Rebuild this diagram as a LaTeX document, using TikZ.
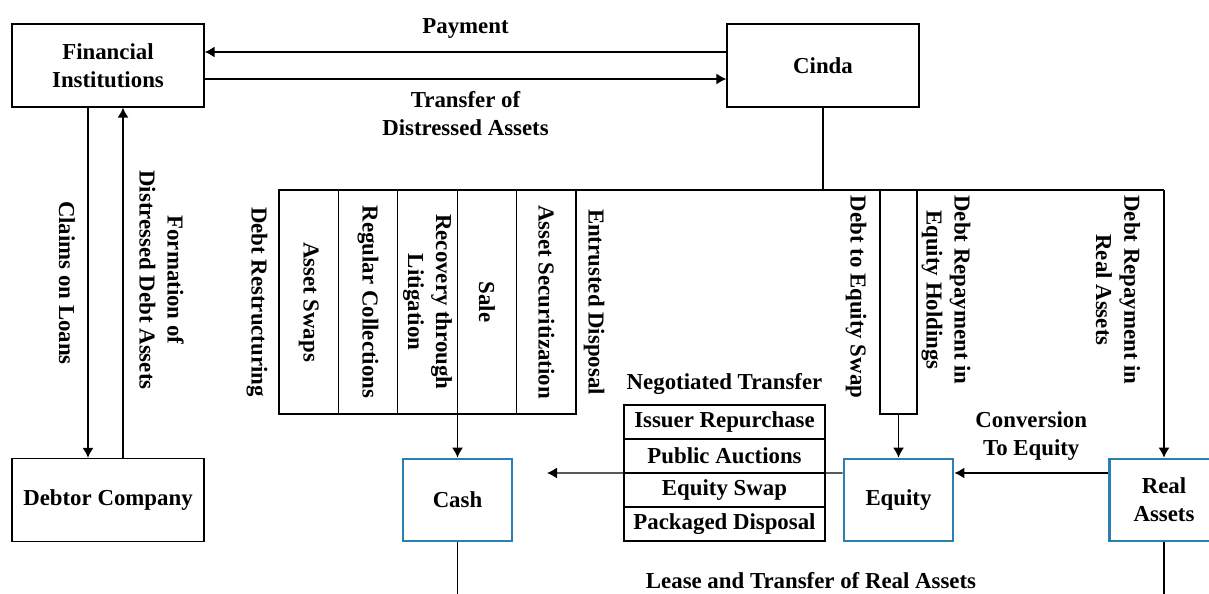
\documentclass[tikz,border=0pt]{standalone}
\usepackage{fontspec}
\setmainfont{Liberation Serif}
\usetikzlibrary{arrows.meta, positioning}
\definecolor{outblue}{RGB}{43,128,178}

\begin{document}
\begin{tikzpicture}[x=0.02cm, y=-0.02cm, font=\fontsize{13}{16}\selectfont\bfseries]
	\tikzstyle{every node}=[align=center, inner sep=1pt]
	\tikzstyle{box}=[draw, line width=0.75pt, minimum height=1.66cm, minimum width=3.84cm]
	\tikzstyle{outbox}=[draw=outblue, line width=1.6pt, minimum height=1.64cm, minimum width=2.18cm]
	\tikzstyle{column}=[draw, line width=0.75pt, outer sep=0pt, rotate=-90, minimum height=1.188cm, minimum width=4.48cm]
	\tikzstyle{row}=[draw, line width=0.75pt, outer sep=0pt, minimum height=0.68cm, minimum width=4.02cm]
	\tikzstyle{arr}=[line width=0.75pt, -{Latex[length=2mm, width=2.2mm]}]

	\useasboundingbox (0,0) rectangle (1209,594);

	% financial institutions
	\node[box](Fin_Inst) at (108, 65.5) {Financial\\Institutions};

	% cinda
	\node[box](Cinda) at (823, 65.5) {Cinda};

	% debtor company
	\node[box](Debtor) at (108, 500) {Debtor Company};

	% cash, equity, real assets
	\node[outbox](Cash) at (457.5, 500) {Cash};
	\node[outbox](Equity) at (898.5, 500) {Equity};
	\node[outbox](Real) at (1164, 500) {Real\\Assets};

	% disposal columns
	\node[column](Swaps) at (308.7, 302) {Asset Swaps};
	\node[column](Collect) at (368.1, 302) {Regular Collections};
	\node[column](Litig) at (427.5, 302) {Recovery through\\Litigation};
	\node[column](Sale) at (486.9, 302) {Sale};
	\node[column](Securit) at (546.3, 302) {Asset Securitization};
	\node[column, minimum height=0.74cm](Eq_Col) at (898.5, 302) {};

	% labels beside the columns
	\node[rotate=-90](Restruct) at (257, 302) {Debt Restructuring};
	\node[rotate=-90](Entrust) at (594, 302) {Entrusted Disposal};
	\node[rotate=-90](Debt_Eq) at (856, 297) {Debt to Equity Swap};
	\node[rotate=-90](Repay_Eq) at (946, 290) {Debt Repayment in\\Equity Holdings};
	\node[rotate=-90](Repay_Real) at (1118, 290) {Debt Repayment in\\Real Assets};

	% negotiated transfer
	\node(Neg_Title) at (724.5, 384) {Negotiated Transfer};
	\node[row](Issuer) at (724.5, 422) {Issuer Repurchase};
	\node[row, below=0pt of Issuer](Auction) {Public Auctions};
	\node[row, below=0pt of Auction](Eq_Swap) {Equity Swap};
	\node[row, below=0pt of Eq_Swap](Package) {Packaged Disposal};

	% lines
	% fin. inst. - cinda
	% payment
	\draw[arr]([yshift=0.27cm]Cinda.west)--([yshift=0.27cm]Fin_Inst.east) node[midway, yshift=0.47cm](Payment){Payment};
	% transfer
	\draw[arr]([yshift=-0.27cm]Fin_Inst.east)--([yshift=-0.27cm]Cinda.west) node[midway, yshift=-0.7cm](Transfer){Transfer of\\Distressed Assets};

	% fin. inst. - debtor
	\draw[arr]([xshift=-0.4cm]Fin_Inst.south)--([xshift=-0.4cm]Debtor.north);
	\draw[arr]([xshift=0.3cm]Debtor.north)--([xshift=0.3cm]Fin_Inst.south);
	\node[rotate=-90](Claims) at (67, 283) {Claims on Loans};
	\node[rotate=-90](Formation) at (161.5, 280) {Formation of\\Distressed Debt Assets};

	% cinda - disposal
	\coordinate(Bus_L) at (279, 190);
	\coordinate(Bus_R) at (1164, 190);
	\draw[line width=0.75pt](Bus_L)--(Bus_R);
	\draw[line width=0.75pt](Cinda.south)--(Cinda.south |- Bus_L);
	\draw[arr](Bus_R)--(Real.north);

	% disposal - outcomes
	\draw[arr](Cash.north |- Sale.east)--(Cash.north);
	\draw[arr](Eq_Col.east)--(Equity.north);

	% real assets - equity
	\draw[arr](Real.west |- Auction.south)--(Equity.east |- Auction.south) node[midway, yshift=0.74cm](Convert){Conversion\\To Equity};

	% equity - cash
	\coordinate(Cash_In) at (547, 473);
	\draw[arr](Equity.west |- Auction.south)--(Cash_In);

	% lease and transfer
	\coordinate(Bottom) at (0, 600);
	\draw[line width=0.75pt](Cash.south)--(Cash.south |- Bottom);
	\draw[line width=0.75pt](Real.south)--(Real.south |- Bottom);
	\node(Lease) at (811, 581) {Lease and Transfer of Real Assets};
\end{tikzpicture}
\end{document}
